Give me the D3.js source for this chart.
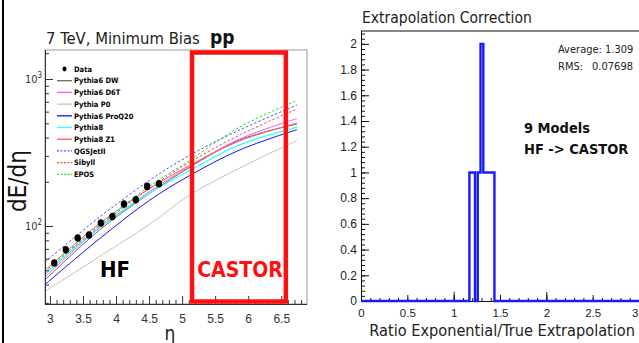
<!DOCTYPE html>
<html>
<head>
<meta charset="utf-8">
<script src="https://cdnjs.cloudflare.com/ajax/libs/d3/7.8.5/d3.min.js"></script>
<style>
  body { margin: 0; background: #fff; }
  svg { display: block; font-family: "DejaVu Sans Condensed", "DejaVu Sans", sans-serif; font-stretch: condensed; }
</style>
</head>
<body>
<svg id="chart" width="639" height="343"></svg>
<script>
// ---- left panel: dE/deta vs eta ----
const dataEta = [3.065, 3.24, 3.42, 3.59, 3.77, 3.945, 4.12, 4.30, 4.47, 4.65];
const dataDEdEta = [56, 69, 83, 87, 105, 116, 141, 151, 186, 194];

const modelEta = [2.925, 3.75, 4.51, 5.11, 5.87, 6.74];
const pythia6DW = [43, 94, 167, 250, 385, 494];
const pythia6D6T = [45, 97, 172, 254, 391, 539];
const pythiaP0 = [36, 62, 103, 162, 248, 382];
const pythia6ProQ20 = [40, 82, 150, 220, 329, 453];
const pythia8 = [47, 98, 168, 238, 356, 471];
const pythia8Z1 = [50, 104, 180, 258, 379, 502];
const qgsjetII = [57, 115, 205, 302, 450, 665];
const sibyll = [49, 100, 181, 271, 416, 625];
const epos = [49, 102, 187, 279, 471, 714];

const modelNames = ["Pythia6 DW", "Pythia6 D6T", "Pythia P0", "Pythia6 ProQ20", "Pythia8",
  "Pythia8 Z1", "QGSJetII", "Sibyll", "EPOS"];
const modelValues = [pythia6DW, pythia6D6T, pythiaP0, pythia6ProQ20, pythia8, pythia8Z1, qgsjetII, sibyll, epos];
const modelColors = ["#6a6a6a", "#ff55ff", "#c9c1b8", "#1010ff", "#33ffff", "#ff5a5a", "#5050ff", "#e05050", "#20e020"];
const modelDashed = [false, false, false, false, false, false, true, true, true];

const castorRange = [5.15, 6.57];

// ---- right panel: extrapolation correction histogram ----
const binWidth = 0.03;
const ratioBinLow = [1.17, 1.20, 1.26, 1.29, 1.32, 1.35, 1.38, 1.41];
const ratioCounts = [1, 1, 1, 2, 1, 1, 1, 1];
const statAverage = "1.309";
const statRMS = "0.07698";

const svg = d3.select("#chart");
svg.append("rect").attr("width", 639).attr("height", 343).attr("fill", "#fff");
// border line on the far left
svg.append("line").attr("x1", 3).attr("x2", 3).attr("y1", 0).attr("y2", 343)
  .attr("stroke", "#000").attr("stroke-width", 2);

// ================= LEFT =================
const xL = d3.scaleLinear().domain([2.925, 6.89]).range([45, 307]);
const yL = d3.scaleLog().domain([29.5, 1575]).range([304, 50]);

const left = svg.append("g");

// frame
left.append("rect").attr("x", 45).attr("y", 50).attr("width", 262).attr("height", 254)
  .attr("fill", "none").attr("stroke", "#999").attr("stroke-width", 1);

// model curves
const line = d3.line()
  .x((d, i) => xL(modelEta[i]))
  .y(d => yL(d))
  .curve(d3.curveCatmullRom);

modelValues.forEach((vals, i) => {
  left.append("path")
    .attr("d", line(vals))
    .attr("fill", "none")
    .attr("stroke", modelColors[i])
    .attr("stroke-width", i === 4 ? 1.3 : 1)
    .attr("stroke-dasharray", modelDashed[i] ? "2.5,2" : null);
});

// data points
left.selectAll("ellipse.data")
  .data(dataEta)
  .enter()
  .append("ellipse")
  .attr("cx", d => xL(d))
  .attr("cy", (d, i) => yL(dataDEdEta[i]))
  .attr("rx", 3.2)
  .attr("ry", 3.8)
  .attr("fill", "#000");

// x axis
const xMajor = d3.range(3, 6.51, 0.5);
const xMinor = d3.range(3, 6.9, 0.1).filter(v => Math.abs(v * 2 - Math.round(v * 2)) > 0.01);
const gxL = left.append("g").attr("transform", "translate(0,304)");
gxL.call(d3.axisBottom(xL).tickValues(xMajor).tickSize(-8).tickPadding(10).tickFormat(d => +d.toFixed(1)));
gxL.append("g").call(d3.axisBottom(xL).tickValues(xMinor).tickSize(-4).tickFormat(""));
gxL.selectAll(".domain").attr("stroke", "#333").attr("d", "M45,0.5H307");
gxL.selectAll(".tick line").attr("stroke", "#333");
gxL.selectAll("text").attr("font-size", 12).attr("fill", "#333").attr("font-family", null);

// y axis (log)
const yMinor = [30, 40, 50, 60, 70, 80, 90, 200, 300, 400, 500, 600, 700, 800, 900, 1500];
const gyL = left.append("g").attr("transform", "translate(45,0)");
gyL.call(d3.axisLeft(yL).tickValues([100, 1000]).tickSize(-8).tickFormat(""));
gyL.append("g").call(d3.axisLeft(yL).tickValues(yMinor).tickSize(-4).tickFormat(""));
gyL.selectAll(".domain").attr("stroke", "#333").attr("d", "M0.5,50V304");
gyL.selectAll(".tick line").attr("stroke", "#333");

[[100, "2"], [1000, "3"]].forEach(([v, e]) => {
  const t = left.append("text").attr("x", 25).attr("y", yL(v) + 4)
    .attr("font-size", 11).attr("fill", "#333");
  t.append("tspan").text("10");
  t.append("tspan").attr("dy", -5).attr("font-size", 8).text(e);
});

// legend
const legend = left.append("g").attr("font-size", 7.5).attr("font-weight", "bold");
const legRow = i => 69 + i * 11.7;
legend.append("ellipse").attr("cx", 64.5).attr("cy", legRow(0)).attr("rx", 2).attr("ry", 2.4).attr("fill", "#000");
legend.append("text").attr("x", 74).attr("y", legRow(0) + 2.7).text("Data");
modelNames.forEach((name, i) => {
  legend.append("line")
    .attr("x1", 57).attr("x2", 72)
    .attr("y1", legRow(i + 1)).attr("y2", legRow(i + 1))
    .attr("stroke", modelColors[i])
    .attr("stroke-width", 1.3)
    .attr("stroke-dasharray", modelDashed[i] ? "2,1.5" : null);
  legend.append("text").attr("x", 74).attr("y", legRow(i + 1) + 2.7).text(name);
});

// CASTOR box
left.append("rect")
  .attr("x", xL(castorRange[0])).attr("y", 52.5)
  .attr("width", xL(castorRange[1]) - xL(castorRange[0]))
  .attr("height", 249)
  .attr("fill", "none").attr("stroke", "#ff1010").attr("stroke-width", 4.5);

left.append("text").attr("x", 115).attr("y", 277).attr("text-anchor", "middle")
  .attr("font-size", 22).attr("font-weight", "bold").text("HF");
left.append("text").attr("x", 240).attr("y", 277).attr("text-anchor", "middle")
  .attr("font-size", 21).attr("font-weight", "bold").attr("fill", "#ff1010").text("CASTOR");

// titles
left.append("text").attr("x", 46).attr("y", 44).attr("font-size", 16.5).attr("fill", "#222").text("7 TeV, Minimum Bias");
left.append("text").attr("x", 210).attr("y", 44).attr("font-size", 19).attr("font-weight", "bold").attr("fill", "#111").text("pp");
left.append("text").attr("x", 170).attr("y", 340).attr("text-anchor", "middle").attr("font-size", 19).attr("fill", "#222").text("η");
left.append("text").attr("transform", "translate(26,181) rotate(-90)").attr("text-anchor", "middle")
  .attr("font-size", 24).attr("fill", "#111").text("dE/dη");

// ================= RIGHT =================
const xR = d3.scaleLinear().domain([0, 3]).range([361, 639]);
const yR = d3.scaleLinear().domain([0, 2.1]).range([301, 31]);

const right = svg.append("g");

// frame top
right.append("line").attr("x1", 361).attr("x2", 639).attr("y1", 31).attr("y2", 31).attr("stroke", "#111");

// y axis
const gyR = right.append("g").attr("transform", "translate(361,0)");
gyR.call(d3.axisLeft(yR).tickValues(d3.range(0, 2.01, 0.2)).tickSize(-8).tickPadding(4)
  .tickFormat(d => +d.toFixed(1)));
gyR.append("g").call(d3.axisLeft(yR).tickValues(d3.range(0, 2.09, 0.04)).tickSize(-4).tickFormat(""));
gyR.selectAll(".domain").attr("stroke", "#111").attr("d", "M0.5,31V301");
gyR.selectAll(".tick line").attr("stroke", "#111");
gyR.selectAll("text").attr("font-size", 12).attr("fill", "#222").attr("font-family", null);

// x axis
const gxR = right.append("g").attr("transform", "translate(0,301)");
gxR.call(d3.axisBottom(xR).tickValues(d3.range(0, 3.01, 0.5)).tickSize(-6).tickPadding(8)
  .tickFormat(d => +d.toFixed(1)));
gxR.append("g").call(d3.axisBottom(xR).tickValues([1, 2, 3]).tickSize(-9).tickFormat(""));
gxR.append("g").call(d3.axisBottom(xR).tickValues(d3.range(0, 3.01, 0.1)).tickSize(-3).tickFormat(""));
gxR.selectAll(".domain").attr("stroke", "#111").attr("d", "M361,0.5H639");
gxR.selectAll(".tick line").attr("stroke", "#111");
gxR.selectAll("text").attr("font-size", 11.5).attr("fill", "#222").attr("font-family", null)
  .filter(d => Math.abs(d - 3) < 1e-6).attr("text-anchor", "end").attr("dx", -1);

// histogram outline
const nBins = Math.round(3 / binWidth);
const counts = new Array(nBins).fill(0);
ratioBinLow.forEach((lo, i) => { counts[Math.round(lo / binWidth)] = ratioCounts[i]; });
const steps = counts.map((c, k) => [k * binWidth, c]);
steps.push([3, 0]);
right.append("path")
  .attr("d", d3.line().x(d => xR(d[0])).y(d => yR(d[1])).curve(d3.curveStepAfter)(steps))
  .attr("fill", "none").attr("stroke", "#1a1aff").attr("stroke-width", 2.4);

// stats
right.append("text").attr("x", 558).attr("y", 53).attr("font-size", 11).attr("fill", "#222").text("Average: " + statAverage);
right.append("text").attr("x", 558).attr("y", 70).attr("font-size", 11).attr("fill", "#222").text("RMS:");
right.append("text").attr("x", 633).attr("y", 70).attr("text-anchor", "end").attr("font-size", 11).attr("fill", "#222").text(statRMS);

right.append("text").attr("x", 524).attr("y", 133).attr("font-size", 14.5).attr("font-weight", "bold").attr("fill", "#111").text("9 Models");
right.append("text").attr("x", 524).attr("y", 154).attr("font-size", 14.5).attr("font-weight", "bold").attr("fill", "#111").text("HF -> CASTOR");

right.append("text").attr("x", 362).attr("y", 23).attr("font-size", 15.5).attr("fill", "#222").text("Extrapolation Correction");
right.append("text").attr("x", 635).attr("y", 336).attr("text-anchor", "end").attr("font-size", 16.2).attr("fill", "#222")
  .text("Ratio Exponential/True Extrapolation");
</script>
</body>
</html>
